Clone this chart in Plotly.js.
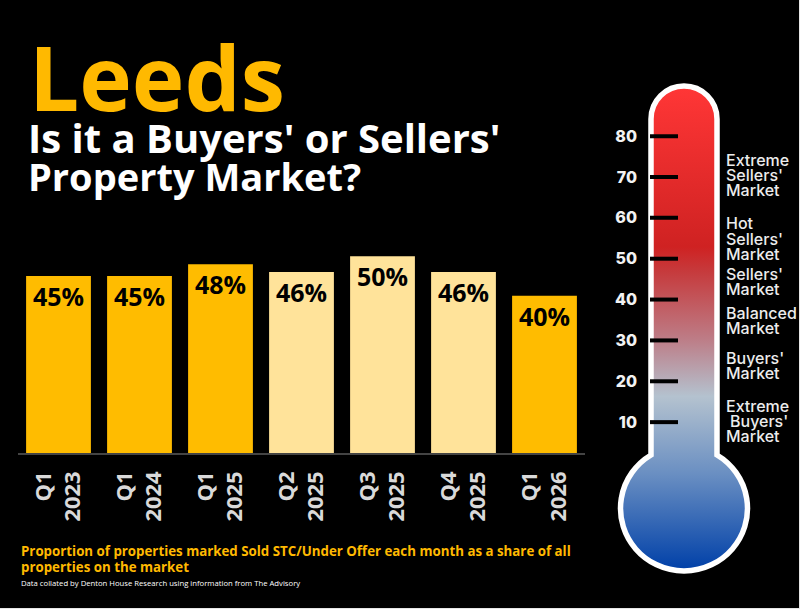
<!DOCTYPE html>
<html>
<head>
<meta charset="utf-8">
<script src="https://cdn.plot.ly/plotly-3.0.1.min.js"></script>
<style>html,body{margin:0;padding:0;background:#000;overflow:hidden}</style>
</head>
<body>
<div id="chart" style="width:800px;height:609px"></div>
<script>
const quarters = ['Q1<br>2023', 'Q1<br>2024', 'Q1<br>2025', 'Q2<br>2025', 'Q3<br>2025', 'Q4<br>2025', 'Q1<br>2026'];
const shares = [45, 45, 48, 46, 50, 46, 40];
const barColors = ['#ffbc00', '#ffbc00', '#ffbc00', '#ffe39a', '#ffe39a', '#ffe39a', '#ffbc00'];
const thermoTicks = [80, 70, 60, 50, 40, 30, 20, 10];

const W = 800, H = 609;
const px = v => v / W;
const py = v => 1 - v / H;

// thermometer body, gradient can't be done with a plain shape so it goes in as an svg image
const thermoSvg = `<svg xmlns="http://www.w3.org/2000/svg" width="${W}" height="${H}" viewBox="0 0 ${W} ${H}">
<defs><linearGradient id="g" gradientUnits="userSpaceOnUse" x1="0" y1="88" x2="0" y2="570">
<stop offset="0" stop-color="#ff3636"/>
<stop offset="0.33" stop-color="#cf2222"/>
<stop offset="0.38" stop-color="#c63a3c"/>
<stop offset="0.52" stop-color="#bd7c86"/>
<stop offset="0.64" stop-color="#b4c2cf"/>
<stop offset="0.80" stop-color="#6a8fc2"/>
<stop offset="1" stop-color="#0040a8"/>
</linearGradient></defs>
<path d="M651 455 V119 A33 33 0 0 1 717 119 V455 A63.5 62.5 0 1 1 651 455 Z" fill="url(#g)" stroke="#fff" stroke-width="5.5"/>
</svg>`;

const text = (str, x, y, size, color, weight, family) => ({
    text: str, xref: 'paper', yref: 'paper', x: px(x), y: py(y),
    xanchor: 'left', yanchor: 'middle', showarrow: false, align: 'left',
    font: {size: size, color: color, weight: weight, family: family || 'Open Sans'}
});
const market = (str, x, y) => text(str, x, y, 16, '#ececec', 500, 'Inter');

const tickX = [], tickY = [];
for (let t of thermoTicks) {
    tickX.push(0, 1, null);
    tickY.push(t, t, null);
}

const data = [
    {
        type: 'bar', x: quarters, y: shares,
        marker: {color: barColors},
        text: shares.map(v => v + '%'), textposition: 'inside', insidetextanchor: 'end',
        textangle: 0, constraintext: 'none',
        textfont: {size: 25, color: '#000', family: 'Open Sans', weight: 700},
        hoverinfo: 'x+y'
    },
    {
        type: 'scatter', mode: 'lines', xaxis: 'x2', yaxis: 'y2',
        x: tickX, y: tickY, line: {color: '#000', width: 4},
        hoverinfo: 'skip', showlegend: false
    }
];

const layout = {
    width: W, height: H, showlegend: false,
    paper_bgcolor: '#000', plot_bgcolor: 'rgba(0,0,0,0)',
    margin: {l: 0, r: 0, t: 0, b: 0},
    bargap: 0.2,
    xaxis: {
        domain: [px(18), px(585)], anchor: 'y', type: 'category',
        tickangle: -90, showgrid: false, ticks: '',
        showline: true, linecolor: '#444', linewidth: 1.5,
        ticklabelstandoff: 8,
        tickfont: {size: 22, color: '#d9d9d9', family: 'Open Sans', weight: 700}
    },
    yaxis: {domain: [py(453), py(217)], range: [0, 60], visible: false},
    xaxis2: {domain: [px(650), px(678)], range: [0, 1], visible: false, anchor: 'y2'},
    yaxis2: {
        domain: [py(463), py(115.7)], range: [0, 85], anchor: 'x2', side: 'left',
        tickvals: thermoTicks, showgrid: false, zeroline: false, showline: false, ticks: '',
        ticklabelstandoff: 12,
        tickfont: {size: 16, color: '#f2f2f2', family: 'Inter', weight: 800}
    },
    images: [{
        source: 'data:image/svg+xml;charset=utf-8,' + encodeURIComponent(thermoSvg),
        xref: 'paper', yref: 'paper', x: 0, y: 1, sizex: 1, sizey: 1,
        xanchor: 'left', yanchor: 'top', sizing: 'stretch', layer: 'below'
    }],
    shapes: [
        {type: 'rect', xref: 'paper', yref: 'paper', x0: px(799), x1: 1, y0: 0, y1: 1, fillcolor: '#e6e6e6', line: {width: 0}},
        {type: 'rect', xref: 'paper', yref: 'paper', x0: 0, x1: 1, y0: 0, y1: py(608), fillcolor: '#e6e6e6', line: {width: 0}}
    ],
    annotations: [
        text('Leeds', 27, 77, 89, '#ffb900', 700),
        text("Is it a Buyers' or Sellers'", 26, 137, 40, '#fff', 700),
        text('Property Market?', 26, 176, 38, '#fff', 700),
        text('Proportion of properties marked Sold STC/Under Offer each month as a share of all', 19, 551, 13.3, '#ffb900', 700),
        text('properties on the market', 19, 567, 13.3, '#ffb900', 700),
        text('Data collated by Denton House Research using information from The Advisory', 19, 582.5, 7.7, '#fff', 400),
        market('Extreme', 724, 160), market("Sellers'", 724, 175), market('Market', 724, 190),
        market('Hot', 724, 223), market("Sellers'", 724, 239), market('Market', 724, 254),
        market("Sellers'", 724, 274), market('Market', 724, 289),
        market('Balanced', 724, 313), market('Market', 724, 328),
        market("Buyers'", 724, 358), market('Market', 724, 373),
        market('Extreme', 724, 406), market("Buyers'", 728, 421), market('Market', 724, 436)
    ]
};

Plotly.newPlot('chart', data, layout, {displayModeBar: false, staticPlot: true});
</script>
</body>
</html>
